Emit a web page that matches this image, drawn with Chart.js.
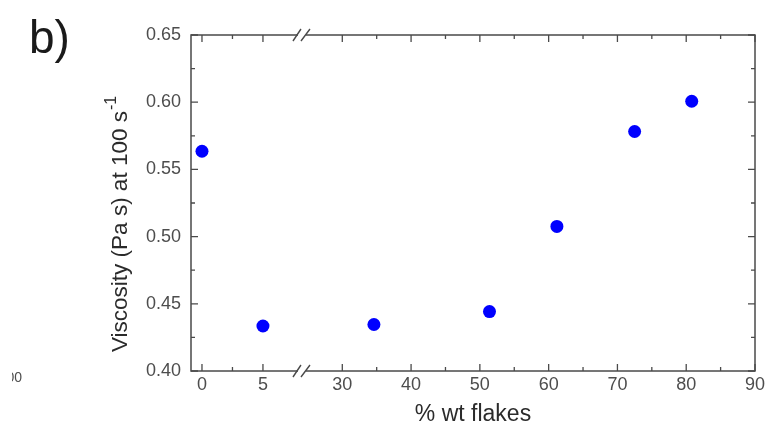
<!DOCTYPE html>
<html>
<head>
<meta charset="utf-8">
<script src="https://cdn.jsdelivr.net/npm/chart.js@4.4.0/dist/chart.umd.min.js"></script>
<style>
  html, body { margin: 0; padding: 0; background: #fff; }
</style>
</head>
<body>
<canvas id="myChart" width="765" height="428"></canvas>
<script>
// Values
var flakes = [0, 5, 34.6, 51.4, 61.2, 72.5, 80.8];
var viscosity = [0.5635, 0.4335, 0.4346, 0.4442, 0.5076, 0.5782, 0.6007];

// Tick labels
var xMajor = [0, 5, 30, 40, 50, 60, 70, 80, 90];
var xMinor = [2.5, 35, 45, 55, 65, 75, 85];
var yMajor = [0.40, 0.45, 0.50, 0.55, 0.60, 0.65];
var yMinor = [0.425, 0.475, 0.525, 0.575, 0.625];

var xBreakAt = 8.2;
var axisColor = "#4a4a4a";
var labelColor = "#4d4d4d";
var fontName = "'Liberation Sans', Arial, sans-serif";

// broken x axis: 0..8 is stretched, then it jumps to 24..90
function toAxis(x) {
	if (x <= 15) return x * 1.773;
	return x - 9.6;
}

var points = flakes.map(function(f, i) {
	return { x: toAxis(f), y: viscosity[i] };
});

// frame, inward ticks, axis break marks and the texts
var decorations = {
	id: "decorations",
	afterDraw: function(chart) {
		var ctx = chart.ctx;
		var area = chart.chartArea;
		var xs = chart.scales.x;
		var ys = chart.scales.y;

		ctx.save();
		ctx.strokeStyle = axisColor;
		ctx.lineWidth = 1.5;
		ctx.strokeRect(area.left, area.top, area.right - area.left, area.bottom - area.top);

		ctx.lineWidth = 1.3;
		ctx.beginPath();
		function xTick(v, len) {
			var px = xs.getPixelForValue(toAxis(v));
			ctx.moveTo(px, area.bottom); ctx.lineTo(px, area.bottom - len);
			ctx.moveTo(px, area.top); ctx.lineTo(px, area.top + len);
		}
		function yTick(v, len) {
			var py = ys.getPixelForValue(v);
			ctx.moveTo(area.left, py); ctx.lineTo(area.left + len, py);
			ctx.moveTo(area.right, py); ctx.lineTo(area.right - len, py);
		}
		xMajor.forEach(function(v) { xTick(v, 7); });
		xMinor.forEach(function(v) { xTick(v, 4); });
		yMajor.forEach(function(v) { yTick(v, 7); });
		yMinor.forEach(function(v) { yTick(v, 4); });
		ctx.stroke();

		// the // marks on the broken axis
		var pb = xs.getPixelForValue(toAxis(xBreakAt));
		[area.bottom, area.top].forEach(function(py) {
			ctx.fillStyle = "#fff";
			ctx.fillRect(pb - 4, py - 2, 8, 4);
			ctx.beginPath();
			ctx.moveTo(pb - 9, py + 6); ctx.lineTo(pb - 1, py - 6);
			ctx.moveTo(pb - 1, py + 6); ctx.lineTo(pb + 8, py - 6);
			ctx.lineWidth = 1.4;
			ctx.stroke();
		});

		// axis titles
		ctx.fillStyle = "#2b2b2b";
		ctx.font = "23px " + fontName;
		ctx.textAlign = "center";
		ctx.textBaseline = "alphabetic";
		ctx.fillText("% wt flakes", (area.left + area.right) / 2, 421);

		ctx.save();
		ctx.translate(127, 352);
		ctx.rotate(-Math.PI / 2);
		ctx.textAlign = "left";
		ctx.font = "22.5px " + fontName;
		var main = "Viscosity (Pa s) at 100 s";
		ctx.fillText(main, 0, 0);
		var w = ctx.measureText(main).width;
		ctx.font = "16px " + fontName;
		ctx.fillText("-1", w + 1, -11);
		ctx.restore();

		// panel letter
		ctx.font = "46px " + fontName;
		ctx.textAlign = "left";
		ctx.fillStyle = "#1a1a1a";
		ctx.fillText("b)", 29, 53);

		// leftover label from the neighbouring panel
		ctx.save();
		ctx.beginPath();
		ctx.rect(12, 360, 30, 30);
		ctx.clip();
		ctx.font = "14px " + fontName;
		ctx.fillStyle = labelColor;
		ctx.textAlign = "right";
		ctx.fillText("00", 22, 382);
		ctx.restore();

		ctx.restore();
	}
};

var ctx = document.getElementById("myChart");
var myChart = new Chart(ctx, {
	type: "scatter",
	data: {
		datasets: [
			{
				label: "Viscosity",
				data: points,
				backgroundColor: "#0000ff",
				borderColor: "#0000ff",
				pointRadius: 6.5,
				pointBorderWidth: 0
			}
		]
	},
	options: {
		responsive: false,
		animation: false,
		layout: { padding: { left: 0, right: 10, top: 35, bottom: 0 } },
		plugins: {
			legend: { display: false },
			tooltip: { enabled: false }
		},
		scales: {
			x: {
				type: "linear",
				min: toAxis(-0.9),
				max: toAxis(90),
				afterBuildTicks: function(scale) {
					scale.ticks = xMajor.map(function(v) { return { value: toAxis(v) }; });
				},
				afterFit: function(scale) {
					scale.height = 57;
					scale.paddingLeft = 0;
					scale.paddingRight = 0;
				},
				ticks: {
					autoSkip: false,
					maxRotation: 0,
					padding: 3,
					color: labelColor,
					font: { family: fontName, size: 18 },
					callback: function(val, i) { return xMajor[i]; }
				},
				grid: { display: false, drawTicks: false },
				border: { display: false }
			},
			y: {
				min: 0.40,
				max: 0.65,
				afterBuildTicks: function(scale) {
					scale.ticks = yMajor.map(function(v) { return { value: v }; });
				},
				afterFit: function(scale) {
					scale.width = 191;
					scale.paddingTop = 0;
					scale.paddingBottom = 0;
				},
				ticks: {
					padding: 10,
					color: labelColor,
					font: { family: fontName, size: 18 },
					callback: function(val) { return val.toFixed(2); }
				},
				grid: { display: false, drawTicks: false },
				border: { display: false }
			}
		}
	},
	plugins: [decorations]
});
</script>
</body>
</html>
